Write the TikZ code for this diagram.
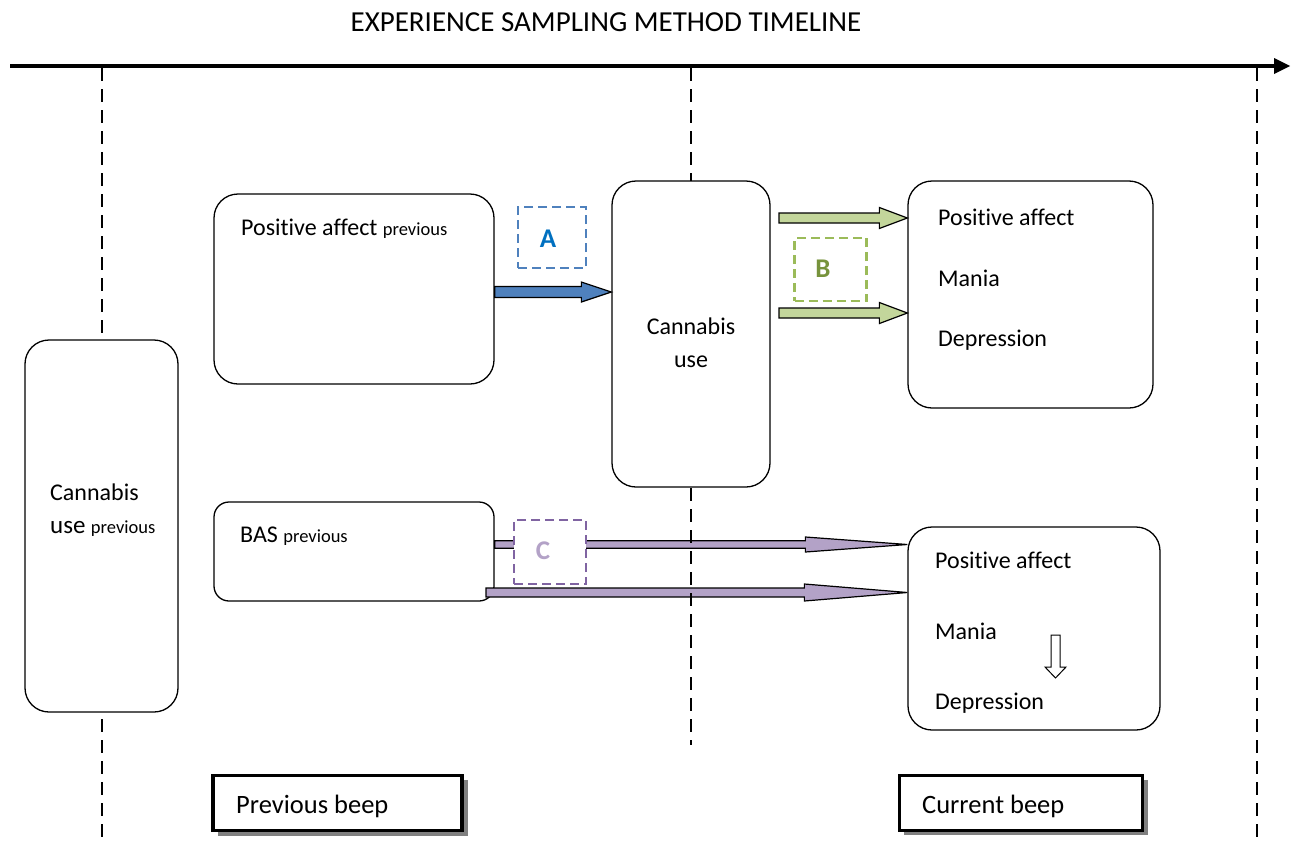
\documentclass[tikz,border=0pt]{standalone}
\usepackage{fontspec}
\setmainfont{Carlito}[Ligatures=NoCommon]
\usetikzlibrary{calc}
\definecolor{blueF}{HTML}{4F81BD}
\definecolor{blueT}{HTML}{0070C0}
\definecolor{greenF}{HTML}{C3D69B}
\definecolor{greenD}{HTML}{9BBB59}
\definecolor{greenT}{HTML}{77933C}
\definecolor{purpF}{HTML}{B3A2C7}
\definecolor{purpD}{HTML}{8064A2}
\newcommand\blockarrow[6]{%
  \draw[#1] let \p1=#2, \p2=#3 in
    (\x1,\y1-#4) -- (\x2-#6,\y1-#4) -- (\x2-#6,\y1-#5) -- (\x2,\y1)
    -- (\x2-#6,\y1+#5) -- (\x2-#6,\y1+#4) -- (\x1,\y1+#4) -- cycle;}
\tikzset{
  rbox/.style={draw, fill=white, line width=1.3pt, rounded corners=24pt, inner sep=0pt},
  txt/.style={anchor=base west, inner sep=0pt, font=\fontsize{24}{28}\selectfont},
  beeptxt/.style={anchor=base west, inner sep=0pt, font=\fontsize{26.5}{30}\selectfont},
  vline/.style={dash pattern=on 13pt off 8pt, line width=1.4pt},
  dbox/.style={draw, fill=white, line width=2.2pt, dash pattern=on 9pt off 5pt, inner sep=0pt},
  lbl/.style={inner sep=0pt, font=\fontsize{27}{30}\selectfont\bfseries},
  beep/.style={draw, fill=white, line width=3.5pt, inner sep=0pt},
  barrow/.style={draw, line width=1.2pt, line join=miter}
}
\newcommand\smp{\fontsize{18.5}{20}\selectfont previous}
\begin{document}
\begin{tikzpicture}[x=1pt,y=-1pt]
\useasboundingbox (0,0) rectangle (1298,846);

% title and timeline
\node[inner sep=0pt, font=\fontsize{29}{32}\selectfont] (title) at (606,22) {EXPERIENCE SAMPLING METHOD TIMELINE};
\coordinate (tl0) at (10,66);
\coordinate (tl1) at (1290,66);
\draw[line width=4.5pt] (tl0) -- (1276,66);
\fill (tl1) -- (1274,58) -- (1274,74) -- cycle;

% vertical dashed lines ends
\coordinate (v1t) at (102,68); \coordinate (v1b) at (102,840);
\coordinate (v2t) at (691,68); \coordinate (v2b) at (691,745);
\coordinate (v3t) at (1257,68); \coordinate (v3b) at (1257,840);

\coordinate (ya) at (0,292);
\coordinate (yg1) at (0,218);
\coordinate (yg2) at (0,313);
\coordinate (yp1) at (0,544.5);
\coordinate (yp2) at (0,592.5);

% BAS box and bottom-right box
\node[rbox, minimum width=280pt, minimum height=99pt, rounded corners=15pt] (bas) at (354,551.5) {};
\node[rbox, minimum width=252pt, minimum height=203pt] (cb) at (1034,628.5) {};
\node[txt] (bast) at (240,542) {BAS {\smp}};

% purple arrows
\blockarrow{barrow, fill=purpF}{(bas.east |- yp1)}{(cb.west |- yp1)}{3.8}{7.5}{102}
\blockarrow{barrow, fill=purpF}{(486,592.5)}{(cb.west |- yp2)}{4.5}{8.5}{103}

% dashed verticals
\draw[vline] (v1t) -- (v1b);
\draw[vline] (v2t) -- (v2b);
\draw[vline] (v3t) -- (v3b);

% box C
\node[dbox, draw=purpD, minimum width=72pt, minimum height=64pt] (boxc) at (550,552) {};
\node[lbl, text=purpF] (c) at (543,551) {C};

% top left box
\node[rbox, minimum width=280pt, minimum height=190pt] (pa) at (354,289) {};
\node[txt] (pat) at (241,235) {Positive affect {\smp}};

% cannabis use
\node[rbox, minimum width=158pt, minimum height=306pt] (cu) at (691,334) {};
\node[inner sep=0pt, align=center, font=\fontsize{24}{33}\selectfont] (cut) at (691,343) {Cannabis\\use};

% blue arrow and A
\blockarrow{barrow, fill=blueF}{(pa.east |- ya)}{(cu.west |- ya)}{5.5}{10}{30}
\node[dbox, draw=blueF, minimum width=68pt, minimum height=61pt] (boxa) at (552,237.5) {};
\node[lbl, text=blueT] (a) at (548,239) {A};

% top right box
\node[rbox, minimum width=245pt, minimum height=227pt] (ct) at (1030.5,294.5) {};
\node[txt] (ct1) at (938,225) {Positive affect};
\node[txt] (ct2) at (938,286) {Mania};
\node[txt] (ct3) at (938,346) {Depression};

% green arrows and B
\blockarrow{barrow, fill=greenF}{(779,218)}{(ct.west |- yg1)}{5}{10.5}{28}
\blockarrow{barrow, fill=greenF}{(779,313)}{(ct.west |- yg2)}{5}{10.5}{28}
\node[dbox, draw=greenD, minimum width=72pt, minimum height=63pt] (boxb) at (830.5,269.5) {};
\node[lbl, text=greenT] (b) at (823,269) {B};

% cannabis use previous
\node[rbox, minimum width=153pt, minimum height=372pt] (cp) at (101.5,526) {};
\node[txt] (cp1) at (50,500) {Cannabis};
\node[txt] (cp2) at (50,533) {{\fontsize{25}{28}\selectfont use} {\smp}};

% bottom right texts
\node[txt] (cb1) at (935,568) {Positive affect};
\node[txt] (cb2) at (935,639) {Mania};
\node[txt] (cb3) at (935,709) {Depression};
\draw[line width=1pt, fill=white, line join=miter] (1051,635) -- (1060,635) -- (1060,667) -- (1066,667) -- (1055.5,678) -- (1045,667) -- (1051,667) -- cycle;

% beep boxes
\fill[black!50] (218,780) rectangle (468,836);
\node[beep, minimum width=249pt, minimum height=55pt] (pb) at (337.5,803) {};
\node[beeptxt] (pbt) at (236,813) {Previous beep};
\fill[black!50] (904,780) rectangle (1148,835);
\node[beep, minimum width=243pt, minimum height=55pt] (cbp) at (1021,803) {};
\node[beeptxt] (cbt) at (922,813) {Current beep};
\end{tikzpicture}
\end{document}
